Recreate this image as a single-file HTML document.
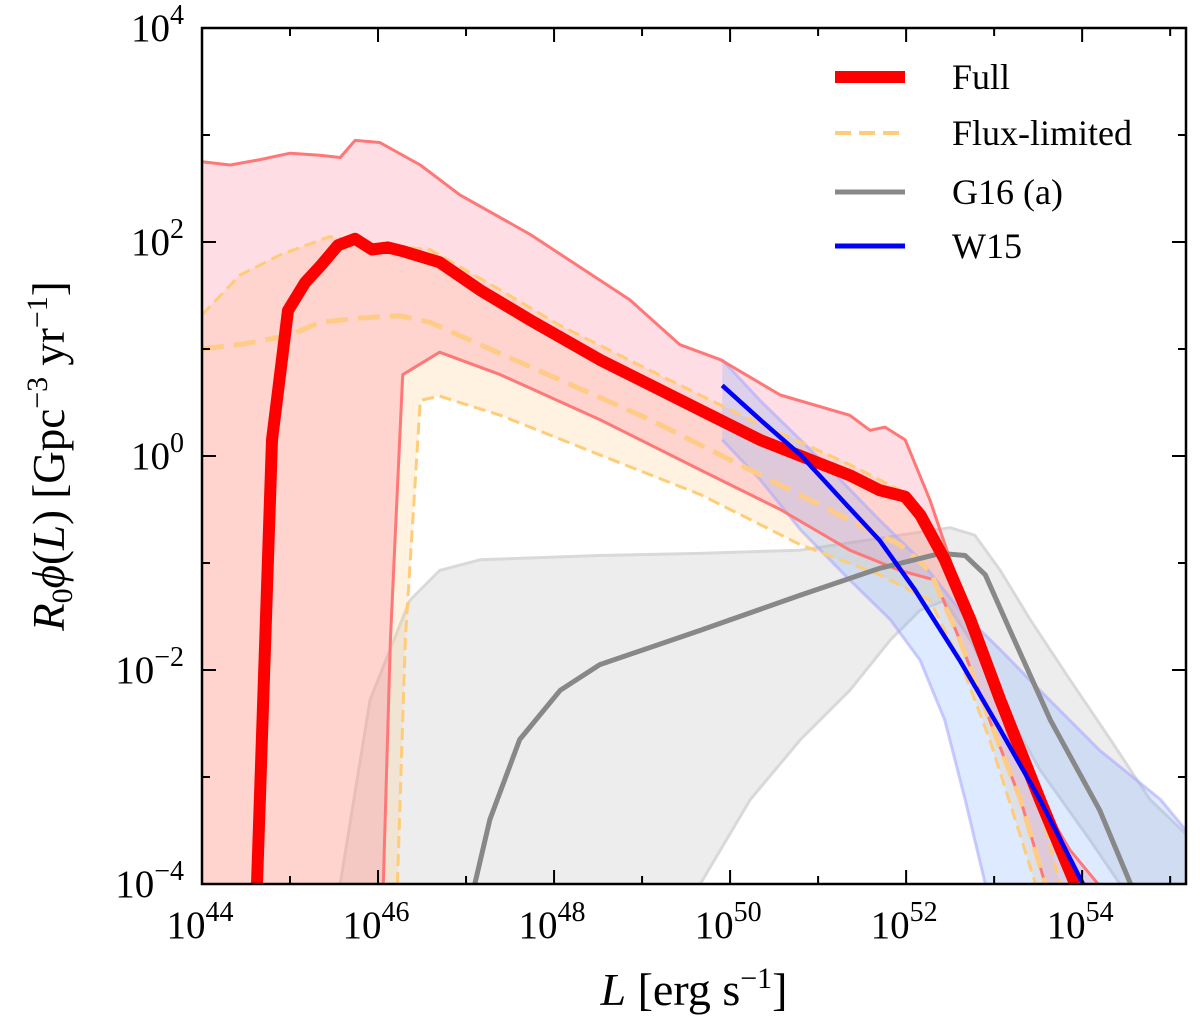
<!DOCTYPE html>
<html><head><meta charset="utf-8"><style>
body{margin:0;background:#fff;}
svg{display:block;font-family:"Liberation Serif",serif;}
</style></head><body>
<svg id="chart" width="1200" height="1016">
<defs><clipPath id="clip"><rect x="202" y="28" width="984" height="856"/></clipPath></defs>
<g id="plot" clip-path="url(#clip)"></g>
<rect x="202" y="28" width="984" height="856" fill="none" stroke="#000" stroke-width="2.5"/>
<g id="axes"></g>
<text x="694" y="1005" font-size="46" text-anchor="middle"><tspan font-style="italic">L</tspan> [erg s<tspan dy="-17" font-size="30">−1</tspan><tspan dy="17">]</tspan></text>
<text transform="translate(64,456) rotate(-90)" font-size="45" text-anchor="middle"><tspan font-style="italic">R</tspan><tspan font-size="30" dy="8">0</tspan><tspan dy="-8" font-style="italic">ϕ</tspan>(<tspan font-style="italic">L</tspan>) [Gpc<tspan dy="-17" font-size="30">−3</tspan><tspan dy="17"> yr</tspan><tspan dy="-17" font-size="30">−1</tspan><tspan dy="17">]</tspan></text>
<g>
<line x1="835" y1="77" x2="905" y2="77" stroke="#ff0000" stroke-width="12"/>
<text x="952" y="89" font-size="36">Full</text>
<line x1="835" y1="133" x2="905" y2="133" stroke="#ffcc77" stroke-width="4" stroke-dasharray="16,8"/>
<text x="952" y="145" font-size="36">Flux-limited</text>
<line x1="835" y1="192" x2="905" y2="192" stroke="#888" stroke-width="5"/>
<text x="952" y="204" font-size="36">G16 (a)</text>
<line x1="835" y1="246" x2="905" y2="246" stroke="#0000ff" stroke-width="5"/>
<text x="952" y="258" font-size="36">W15</text>
</g>
</svg>
<script>
// data in log10 units: [log10 L, log10 R0 phi]
const fullMedian=[[44.625,-4],[44.795,0.15],[44.977,1.36],[45.17,1.62],[45.36,1.79],[45.545,1.97],[45.74,2.03],[45.93,1.93],[46.11,1.95],[46.30,1.91],[46.70,1.81],[47.16,1.55],[47.73,1.27],[48.52,0.90],[49.66,0.43],[50.34,0.15],[51.36,-0.18],[51.70,-0.32],[51.99,-0.38],[52.16,-0.55],[52.44,-0.97],[52.73,-1.53],[53.07,-2.28],[53.52,-3.21],[53.92,-4]];
const fullUpper=[[44,2.75],[44.32,2.72],[44.66,2.77],[45.0,2.83],[45.34,2.81],[45.57,2.79],[45.74,2.95],[46.02,2.93],[46.48,2.72],[46.93,2.44],[47.73,2.07],[48.86,1.46],[49.43,1.04],[49.89,0.90],[50.57,0.57],[51.36,0.38],[51.59,0.24],[51.76,0.27],[51.99,0.15],[52.27,-0.41],[52.5,-0.97],[52.73,-1.53],[52.95,-2.09],[53.18,-2.65],[53.52,-3.21],[53.86,-3.68],[54.18,-4]];
const fullLower=[[46.06,-4],[46.14,-1.72],[46.28,0.76],[46.70,0.97],[47.39,0.76],[48.52,0.34],[49.66,-0.13],[50.57,-0.50],[51.36,-0.88],[51.93,-1.07],[52.33,-1.16],[52.61,-1.72],[52.95,-2.47],[53.30,-3.21],[53.58,-4]];
const fluxMedian=[[44,1.0],[44.5,1.05],[45.0,1.13],[45.34,1.25],[45.80,1.29],[46.25,1.31],[46.59,1.25],[47.16,1.04],[48.07,0.71],[49.09,0.34],[50.23,-0.13],[51.36,-0.60],[51.93,-0.83],[52.27,-1.07],[52.61,-1.72],[52.95,-2.47],[53.30,-3.21],[53.58,-4]];
const fluxUpper=[[44,1.32],[44.43,1.69],[44.89,1.88],[45.45,2.05],[46.02,1.97],[46.59,1.93],[47.39,1.55],[48.07,1.22],[49.09,0.80],[50.23,0.34],[51.36,-0.08],[51.93,-0.32],[52.39,-0.79],[52.73,-1.44],[53.07,-2.19],[53.41,-2.93],[53.75,-4]];
const fluxLower=[[46.22,-4],[46.31,-1.72],[46.48,0.52],[46.70,0.56],[47.39,0.38],[48.52,0.01],[49.66,-0.36],[50.80,-0.83],[51.70,-1.11],[52.27,-1.35],[52.61,-1.91],[52.95,-2.65],[53.24,-3.40],[53.47,-4]];
const g16Median=[[47.10,-4],[47.27,-3.40],[47.61,-2.65],[48.07,-2.19],[48.52,-1.95],[49.66,-1.63],[50.80,-1.30],[51.70,-1.05],[52.39,-0.91],[52.67,-0.93],[52.90,-1.11],[53.18,-1.63],[53.64,-2.47],[54.20,-3.31],[54.55,-4]];
const g16Upper=[[45.57,-4],[45.91,-2.28],[46.36,-1.35],[46.70,-1.07],[47.16,-0.97],[48.52,-0.93],[49.66,-0.91],[50.80,-0.88],[51.93,-0.74],[52.50,-0.67],[52.78,-0.74],[53.07,-1.07],[53.41,-1.53],[53.86,-2.09],[54.32,-2.65],[54.77,-3.21],[55.2,-3.55]];
const g16Lower=[[49.66,-4],[50.23,-3.21],[50.80,-2.65],[51.36,-2.19],[51.82,-1.72],[52.16,-1.44],[52.44,-1.35],[52.73,-1.72],[53.07,-2.28],[53.52,-2.93],[54.09,-3.59],[54.43,-4]];
const w15Median=[[49.91,0.66],[50.34,0.34],[50.80,0.01],[51.36,-0.49],[51.70,-0.79],[52.10,-1.25],[52.61,-1.91],[53.07,-2.56],[53.52,-3.21],[54.01,-4]];
const w15Upper=[[49.91,0.90],[50.34,0.52],[50.80,0.15],[51.25,-0.22],[51.70,-0.60],[52.16,-0.97],[52.61,-1.44],[53.07,-1.81],[53.52,-2.19],[54.20,-2.75],[54.89,-3.21],[55.2,-3.52]];
const w15Lower=[[49.91,0.15],[50.34,-0.22],[50.80,-0.69],[51.36,-1.16],[51.82,-1.53],[52.16,-1.91],[52.44,-2.47],[52.67,-3.21],[52.90,-4]];
const xTickExps=[44,46,48,50,52,54];
const yTickExps=[4,2,0,-2,-4];

const X0=202,X1=1186,Y0=28,Y1=884,XMIN=44,XMAX=55.18,YMIN=-4,YMAX=4;
const xs=v=>X0+(v-XMIN)/(XMAX-XMIN)*(X1-X0);
const ys=v=>Y1-(v-YMIN)/(YMAX-YMIN)*(Y1-Y0);
const NS="http://www.w3.org/2000/svg";
const plot=document.getElementById('plot'),axes=document.getElementById('axes');
const pts=a=>a.map(p=>xs(p[0]).toFixed(1)+','+ys(p[1]).toFixed(1)).join(' ');
function mk(tag,attrs,parent){const e=document.createElementNS(NS,tag);for(const k in attrs)e.setAttribute(k,attrs[k]);parent.appendChild(e);return e;}
function band(up,low,fill,name){
  const lowPts=low.slice().reverse();
  let p=pts(up)+' '+xs(up[up.length-1][0])+','+(Y1+5)+' '+pts(lowPts);
  const e=mk('polygon',{points:p,fill:fill},plot);
  
  
}
function line(a,stroke,w,name,dash){
  const e=mk('polyline',{points:pts(a),fill:'none',stroke:stroke,'stroke-width':w,'stroke-linejoin':'round'},plot);
  if(dash)e.setAttribute('stroke-dasharray',dash);
  
  
}
band(g16Upper,g16Lower,'rgba(150,150,150,0.17)','g16-band');
line(g16Upper,'#d9d9d9',3,'g16-upper-edge');
line(g16Lower,'#d9d9d9',3,'g16-lower-edge');
band(fluxUpper,[[44,-4]].concat(fluxLower),'rgba(255,205,130,0.25)','flux-band');
band(fullUpper,[[44,-4]].concat(fullLower),'rgba(255,120,150,0.25)','full-band');
band(w15Upper,w15Lower,'rgba(120,170,255,0.25)','w15-band');
line(w15Upper,'rgba(170,170,255,0.6)',3,'w15-upper-edge');
line(w15Lower,'rgba(170,170,255,0.6)',3,'w15-lower-edge');
line(fullUpper,'#ff7777',3,'full-upper-edge');
line(fullLower,'#ff7777',3,'full-lower-edge');
line(fluxUpper,'#ffcc77',3,'flux-upper-edge','12,6');
line(fluxLower,'#ffcc77',3,'flux-lower-edge','12,6');
line(fluxMedian,'#ffcc88',5,'flux-median-line','22,10');
line(g16Median,'#888',5,'g16-median-line');
line(fullMedian,'#ff0000',12,'full-median-line');
line(w15Median,'#0000ff',4.5,'w15-median-line');
for(let d=44;d<=55;d++){
  const x=xs(d),L=(d%2===0)?14:8;
  const t=mk('line',{x1:x,y1:Y1,x2:x,y2:Y1-L,stroke:'#000','stroke-width':2},axes);
  
  
  const t2=mk('line',{x1:x,y1:Y0,x2:x,y2:Y0+L,stroke:'#000','stroke-width':2},axes);
  
  
}
for(let d=-4;d<=4;d++){
  const y=ys(d),L=(d%2===0)?14:8;
  const t=mk('line',{x1:X0,y1:y,x2:X0+L,y2:y,stroke:'#000','stroke-width':2},axes);
  
  
  const t2=mk('line',{x1:X1,y1:y,x2:X1-L,y2:y,stroke:'#000','stroke-width':2},axes);
  
  
}
xTickExps.forEach(e=>{
  const t=mk('text',{x:xs(e)-2,y:938,'font-size':39,'text-anchor':'middle'},axes);
  t.innerHTML='10<tspan dy="-17" font-size="28">'+e+'</tspan>';
  
  
});
yTickExps.forEach(e=>{
  const t=mk('text',{x:184,y:ys(e)+13,'font-size':39,'text-anchor':'end'},axes);
  t.innerHTML='10<tspan dy="-17" font-size="28">'+(e<0?'−'+(-e):e)+'</tspan>';
  
  
});
</script>
</body></html>
